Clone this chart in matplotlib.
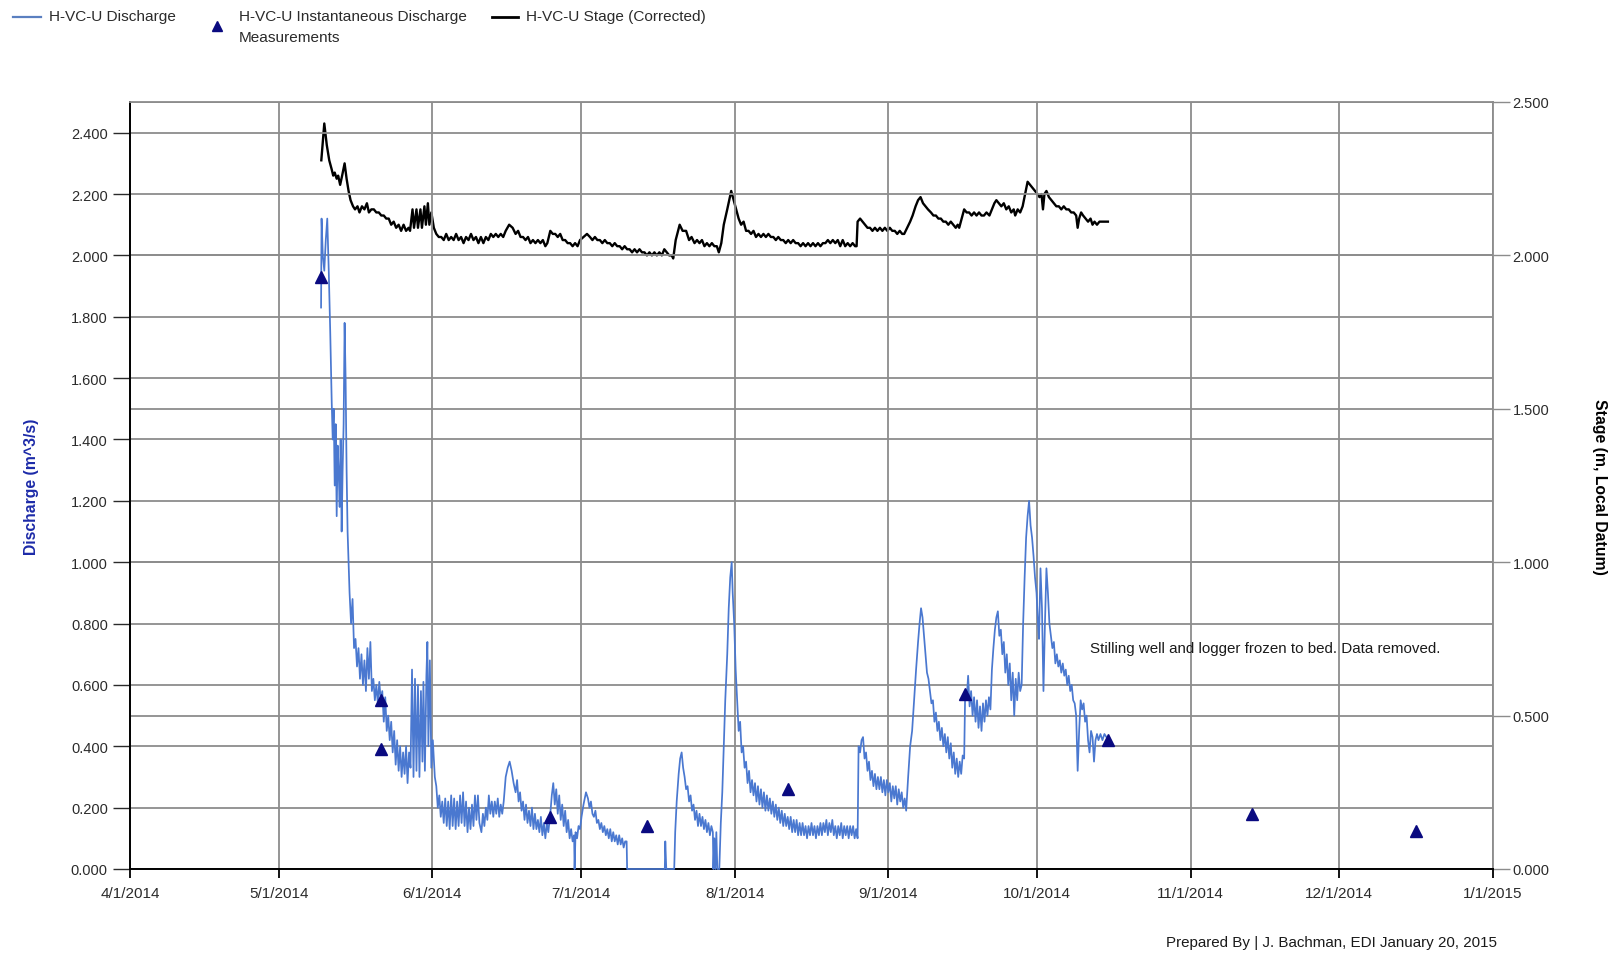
import numpy as np
import pandas as pd
import matplotlib.pyplot as plt
import matplotlib.dates as mdates
from matplotlib.lines import Line2D
from matplotlib.ticker import FixedLocator, FuncFormatter

plt.rcParams['font.family'] = ['Liberation Sans', 'DejaVu Sans']

start = pd.Timestamp('2014-04-01')

# discharge record, days since 4/1/2014 and m^3/s
q_day = [38.55, 38.65, 38.9, 39.2, 39.5, 39.8, 40.1, 40.4, 40.7, 40.9, 41.1, 41.3, 41.5, 41.7, 41.9,
         42.1, 42.3, 42.5, 42.7, 42.9, 43.1, 43.3, 43.5, 43.7, 43.9, 44.1, 44.3, 44.6, 44.9, 45.2,
         45.5, 45.8, 46.1, 46.4, 46.7, 47.0, 47.3, 47.6, 47.9, 48.2, 48.5, 48.8, 49.1, 49.4, 49.7,
         50.0, 50.3, 50.6, 50.9, 51.2, 51.5, 51.8, 52.1, 52.4, 52.7, 53.0, 53.3, 53.6, 53.9, 54.2,
         54.5, 54.8, 55.1, 55.4, 55.7, 56.0, 56.3, 56.6, 56.9, 57.2, 57.5, 57.8, 58.1, 58.4, 58.7,
         59.0, 59.2, 59.5, 59.8, 60.0, 60.2, 60.5, 60.8, 61.1, 61.5, 61.8, 62.1, 62.4, 62.7, 63.0,
         63.3, 63.6, 63.9, 64.2, 64.5, 64.8, 65.1, 65.4, 65.7, 66.0, 66.3, 66.6, 66.9, 67.2, 67.5,
         67.8, 68.1, 68.4, 68.7, 69.0, 69.3, 69.6, 69.9, 70.2, 70.5, 70.9, 71.2, 71.5, 71.8, 72.1,
         72.4, 72.7, 73.0, 73.3, 73.6, 73.9, 74.2, 74.5, 74.8, 75.1, 75.4, 75.8, 76.2, 76.6, 77.0,
         77.4, 77.8, 78.1, 78.4, 78.7, 79.0, 79.3, 79.6, 79.9, 80.2, 80.5, 80.8, 81.1, 81.4, 81.7,
         82.0, 82.3, 82.6, 82.9, 83.2, 83.5, 83.8, 84.1, 84.4, 84.8, 85.1, 85.4, 85.7, 86.0, 86.3,
         86.6, 86.9, 87.2, 87.5, 87.8, 88.1, 88.4, 88.7, 89.0, 89.3, 89.6, 89.7, 89.9, 90.2, 90.5,
         90.8, 91.1, 91.5, 92.0, 92.4, 92.7, 93.0, 93.3, 93.6, 93.9, 94.2, 94.5, 94.8, 95.1, 95.4,
         95.7, 96.0, 96.3, 96.6, 96.9, 97.2, 97.5, 97.8, 98.1, 98.4, 98.7, 99.0, 99.3, 99.6, 99.9,
         100.2, 100.3, 107.9, 108.0, 108.2, 109.8, 110.0, 110.3, 110.7, 111.0, 111.3, 111.6, 111.9,
         112.2, 112.5, 112.8, 113.1, 113.4, 113.7, 114.0, 114.3, 114.6, 114.9, 115.2, 115.5, 115.8,
         116.1, 116.4, 116.7, 117.0, 117.3, 117.6, 117.7, 117.9, 118.1, 118.3, 118.5, 118.9, 119.2,
         119.5, 119.8, 120.1, 120.5, 120.8, 121.1, 121.4, 121.6, 121.9, 122.2, 122.5, 122.8, 123.1,
         123.4, 123.7, 124.0, 124.3, 124.6, 124.9, 125.2, 125.5, 125.8, 126.1, 126.4, 126.7, 127.0,
         127.3, 127.6, 127.9, 128.2, 128.5, 128.8, 129.1, 129.4, 129.7, 130.0, 130.3, 130.6, 130.9,
         131.2, 131.5, 131.8, 132.1, 132.4, 132.7, 133.0, 133.3, 133.6, 133.9, 134.2, 134.5, 134.8,
         135.1, 135.4, 135.7, 136.0, 136.3, 136.6, 136.9, 137.2, 137.5, 137.8, 138.1, 138.4, 138.7,
         139.0, 139.3, 139.6, 139.9, 140.2, 140.5, 140.8, 141.1, 141.4, 141.7, 142.0, 142.3, 142.6,
         142.9, 143.2, 143.5, 143.8, 144.1, 144.4, 144.7, 145.0, 145.3, 145.6, 145.9, 146.2, 146.5,
         146.8, 147.0, 147.3, 147.6, 147.9, 148.2, 148.5, 148.8, 149.1, 149.4, 149.7, 150.0, 150.3,
         150.6, 150.9, 151.2, 151.5, 151.8, 152.1, 152.4, 152.7, 153.0, 153.3, 153.6, 153.9, 154.2,
         154.5, 154.8, 155.1, 155.4, 155.7, 156.0, 156.3, 156.6, 157.0, 157.4, 157.8, 158.2, 158.6,
         159.0, 159.3, 159.6, 159.9, 160.2, 160.5, 160.8, 161.1, 161.4, 161.7, 162.0, 162.3, 162.6,
         162.9, 163.2, 163.5, 163.8, 164.1, 164.4, 164.7, 165.0, 165.3, 165.6, 165.9, 166.2, 166.5,
         166.8, 167.1, 167.4, 167.7, 168.0, 168.3, 168.5, 168.8, 169.1, 169.4, 169.7, 170.0, 170.3,
         170.6, 170.9, 171.2, 171.5, 171.8, 172.1, 172.4, 172.7, 173.0, 173.3, 173.6, 173.9, 174.2,
         174.5, 174.8, 175.1, 175.4, 175.7, 176.0, 176.3, 176.6, 176.9, 177.2, 177.5, 177.8, 178.1,
         178.4, 178.7, 179.0, 179.3, 179.6, 179.9, 180.2, 180.5, 180.8, 181.1, 181.4, 181.7, 182.0,
         182.3, 182.6, 182.9, 183.2, 183.4, 183.7, 184.0, 184.3, 184.6, 184.9, 185.2, 185.5, 185.8,
         186.1, 186.4, 186.7, 187.0, 187.3, 187.6, 187.9, 188.2, 188.5, 188.8, 189.1, 189.4, 189.7,
         190.0, 190.3, 190.6, 190.9, 191.2, 191.5, 191.8, 192.1, 192.4, 192.7, 193.0, 193.3, 193.6,
         193.9, 194.2, 194.5, 194.8, 195.1, 195.4, 195.8, 196.2, 196.6, 197.0]
q_val = [1.83, 2.12, 2.00, 1.95, 2.05, 2.12, 1.95, 1.75, 1.52, 1.40, 1.50, 1.25, 1.45, 1.15, 1.38,
         1.30, 1.18, 1.40, 1.10, 1.30, 1.45, 1.78, 1.60, 1.30, 1.10, 1.00, 0.90, 0.80, 0.88, 0.72,
         0.75, 0.66, 0.72, 0.62, 0.70, 0.60, 0.68, 0.58, 0.72, 0.62, 0.74, 0.58, 0.62, 0.55, 0.60,
         0.54, 0.61, 0.55, 0.58, 0.48, 0.56, 0.45, 0.50, 0.42, 0.48, 0.38, 0.45, 0.34, 0.42, 0.32,
         0.40, 0.30, 0.38, 0.31, 0.40, 0.28, 0.38, 0.33, 0.65, 0.30, 0.62, 0.32, 0.60, 0.30, 0.58,
         0.35, 0.61, 0.32, 0.63, 0.74, 0.40, 0.68, 0.33, 0.42, 0.30, 0.27, 0.20, 0.24, 0.17, 0.22,
         0.15, 0.23, 0.14, 0.22, 0.13, 0.24, 0.14, 0.23, 0.13, 0.22, 0.14, 0.24, 0.15, 0.25, 0.14,
         0.22, 0.12, 0.20, 0.13, 0.21, 0.14, 0.24, 0.16, 0.24, 0.15, 0.12, 0.18, 0.14, 0.20, 0.16,
         0.24, 0.18, 0.22, 0.17, 0.22, 0.18, 0.23, 0.17, 0.21, 0.18, 0.22, 0.30, 0.33, 0.35, 0.32,
         0.28, 0.25, 0.29, 0.22, 0.25, 0.19, 0.22, 0.16, 0.21, 0.15, 0.19, 0.14, 0.20, 0.13, 0.18,
         0.13, 0.16, 0.12, 0.17, 0.11, 0.15, 0.10, 0.15, 0.12, 0.18, 0.24, 0.28, 0.21, 0.26, 0.18,
         0.24, 0.16, 0.21, 0.14, 0.19, 0.12, 0.16, 0.10, 0.13, 0.09, 0.11, 0.00, 0.12, 0.10, 0.14,
         0.13, 0.17, 0.21, 0.25, 0.23, 0.20, 0.22, 0.18, 0.17, 0.19, 0.15, 0.16, 0.13, 0.15, 0.12,
         0.14, 0.11, 0.13, 0.10, 0.13, 0.09, 0.12, 0.09, 0.11, 0.08, 0.11, 0.08, 0.10, 0.07, 0.09,
         0.09, 0.00, 0.00, 0.09, 0.00, 0.00, 0.12, 0.22, 0.31, 0.36, 0.38, 0.33, 0.30,
         0.26, 0.27, 0.22, 0.24, 0.19, 0.21, 0.16, 0.19, 0.14, 0.18, 0.14, 0.17, 0.13,
         0.16, 0.12, 0.15, 0.11, 0.14, 0.12, 0.00, 0.10, 0.00, 0.12, 0.00, 0.00, 0.15,
         0.25, 0.40, 0.55, 0.70, 0.85, 0.95, 1.00, 0.90, 0.80, 0.65, 0.55, 0.45, 0.48,
         0.38, 0.40, 0.33, 0.35, 0.28, 0.32, 0.25, 0.29, 0.24, 0.28, 0.22, 0.27, 0.21,
         0.26, 0.20, 0.25, 0.19, 0.24, 0.19, 0.23, 0.18, 0.22, 0.17, 0.21, 0.16, 0.20,
         0.15, 0.19, 0.14, 0.18, 0.14, 0.17, 0.13, 0.17, 0.12, 0.16, 0.12, 0.16, 0.11,
         0.15, 0.11, 0.15, 0.11, 0.14, 0.10, 0.14, 0.11, 0.15, 0.11, 0.14, 0.10, 0.14,
         0.11, 0.15, 0.11, 0.15, 0.12, 0.16, 0.11, 0.15, 0.12, 0.16, 0.11, 0.14, 0.10,
         0.14, 0.11, 0.15, 0.10, 0.14, 0.11, 0.14, 0.10, 0.14, 0.11, 0.14, 0.10, 0.13,
         0.10, 0.40, 0.38, 0.42, 0.43, 0.36, 0.38, 0.32, 0.35, 0.29, 0.32, 0.27, 0.31,
         0.26, 0.30, 0.26, 0.30, 0.25, 0.29, 0.24, 0.29, 0.25, 0.28, 0.22, 0.27, 0.23,
         0.27, 0.21, 0.26, 0.22, 0.25, 0.20, 0.23, 0.19, 0.30, 0.40, 0.45, 0.55, 0.65,
         0.74, 0.80, 0.85, 0.82, 0.76, 0.70, 0.64, 0.62, 0.58, 0.54, 0.55, 0.48, 0.51,
         0.45, 0.48, 0.42, 0.46, 0.40, 0.44, 0.38, 0.43, 0.36, 0.41, 0.33, 0.38, 0.31,
         0.36, 0.30, 0.35, 0.31, 0.37, 0.36, 0.57, 0.55, 0.63, 0.53, 0.58, 0.50, 0.56,
         0.48, 0.55, 0.46, 0.53, 0.45, 0.54, 0.48, 0.55, 0.50, 0.56, 0.52, 0.65, 0.72,
         0.78, 0.82, 0.84, 0.76, 0.78, 0.70, 0.74, 0.64, 0.70, 0.60, 0.67, 0.55, 0.64,
         0.50, 0.62, 0.55, 0.64, 0.58, 0.60, 0.80, 0.95, 1.08, 1.15, 1.20, 1.12, 1.08,
         1.02, 0.95, 0.90, 0.80, 0.75, 0.98, 0.85, 0.58, 0.80, 0.98, 0.90, 0.80, 0.76,
         0.72, 0.74, 0.67, 0.70, 0.66, 0.68, 0.64, 0.67, 0.63, 0.65, 0.60, 0.63, 0.58,
         0.60, 0.55, 0.54, 0.50, 0.32, 0.45, 0.55, 0.52, 0.54, 0.48, 0.50, 0.42, 0.38,
         0.45, 0.43, 0.35, 0.42, 0.44, 0.42, 0.44, 0.42, 0.44, 0.43]

# corrected stage, days since 4/1/2014 and m
stage_day = [38.6, 39.2, 39.7, 40.2, 40.7, 41.0, 41.3, 41.7, 42.0, 42.4, 42.8, 43.3, 43.7, 44.1, 44.5,
             45.0, 45.4, 45.9, 46.3, 46.8, 47.3, 47.8, 48.2, 48.7, 49.2, 49.7, 50.2, 50.7, 51.2, 51.7,
             52.2, 52.7, 53.2, 53.7, 54.2, 54.7, 55.2, 55.7, 56.2, 56.5, 57.0, 57.3, 57.8, 58.1, 58.6,
             58.9, 59.4, 59.7, 60.1, 60.4, 60.8, 61.3, 61.8, 62.3, 62.8, 63.3, 63.8, 64.3, 64.8, 65.3,
             65.8, 66.3, 66.8, 67.3, 67.8, 68.3, 68.8, 69.3, 69.8, 70.3, 70.8, 71.3, 71.8, 72.3, 72.8,
             73.3, 73.8, 74.3, 74.8, 75.3, 75.8, 76.5, 77.2, 77.8, 78.3, 78.8, 79.3, 79.8, 80.3, 80.8,
             81.3, 81.8, 82.3, 82.8, 83.3, 83.8, 84.2, 84.8, 85.3, 85.8, 86.3, 86.8, 87.3, 87.8, 88.3,
             88.8, 89.3, 89.8, 90.3, 90.8, 91.5, 92.2, 92.8, 93.3, 93.8, 94.3, 94.8, 95.3, 95.8, 96.3,
             96.8, 97.3, 97.8, 98.3, 98.8, 99.3, 99.8, 100.3, 100.8, 101.3, 101.8, 102.3, 102.8, 103.3,
             103.8, 104.3, 104.8, 105.3, 105.8, 106.3, 106.8, 107.3, 107.8, 108.3, 108.8, 109.3, 109.6,
             110.1, 110.9, 111.5, 112.2, 112.8, 113.3, 113.9, 114.4, 114.9, 115.4, 115.9, 116.4, 116.9,
             117.4, 117.9, 118.4, 118.8, 119.3, 119.8, 120.5, 121.3, 121.8, 122.3, 122.8, 123.3, 123.8,
             124.3, 124.8, 125.3, 125.8, 126.3, 126.8, 127.3, 127.8, 128.3, 128.8, 129.3, 129.8, 130.3,
             130.8, 131.3, 131.8, 132.3, 132.8, 133.3, 133.8, 134.3, 134.8, 135.3, 135.8, 136.3, 136.8,
             137.3, 137.8, 138.3, 138.8, 139.3, 139.8, 140.3, 140.8, 141.3, 141.8, 142.3, 142.8, 143.3,
             143.8, 144.3, 144.8, 145.3, 145.8, 146.3, 146.6, 146.8, 147.3, 147.8, 148.3, 148.8, 149.3,
             149.8, 150.3, 150.8, 151.3, 151.8, 152.3, 152.8, 153.3, 153.8, 154.3, 154.8, 155.3, 155.8,
             156.2, 156.8, 157.4, 157.9, 158.5, 159.0, 159.5, 160.0, 160.5, 161.0, 161.6, 162.1, 162.6,
             163.1, 163.6, 164.1, 164.6, 165.1, 165.6, 166.1, 166.6, 167.0, 167.3, 167.8, 168.3, 168.8,
             169.3, 169.8, 170.3, 170.8, 171.3, 171.8, 172.3, 172.8, 173.4, 173.9, 174.4, 174.8, 175.3,
             175.8, 176.3, 176.8, 177.3, 177.8, 178.3, 178.6, 179.1, 179.6, 180.1, 180.6, 181.1, 181.6,
             182.1, 182.6, 183.1, 183.5, 183.9, 184.2, 184.5, 184.9, 185.4, 185.9, 186.4, 186.9, 187.4,
             187.9, 188.4, 188.9, 189.4, 189.9, 190.4, 190.9, 191.2, 191.5, 191.9, 192.3, 192.8, 193.3,
             193.8, 194.2, 194.6, 195.1, 195.6, 196.1, 196.6, 197.3]
stage_val = [2.31, 2.43, 2.36, 2.31, 2.28, 2.26, 2.27, 2.25, 2.26, 2.23, 2.26, 2.30, 2.25, 2.21, 2.18,
             2.16, 2.15, 2.16, 2.14, 2.16, 2.15, 2.17, 2.14, 2.15, 2.15, 2.14, 2.14, 2.13, 2.13, 2.12,
             2.12, 2.10, 2.11, 2.09, 2.10, 2.08, 2.10, 2.08, 2.09, 2.08, 2.15, 2.09, 2.15, 2.09, 2.15,
             2.09, 2.16, 2.10, 2.17, 2.10, 2.14, 2.09, 2.07, 2.06, 2.06, 2.05, 2.07, 2.05, 2.06, 2.05,
             2.07, 2.05, 2.06, 2.04, 2.06, 2.05, 2.07, 2.05, 2.06, 2.04, 2.06, 2.04, 2.06, 2.05, 2.07,
             2.06, 2.07, 2.06, 2.07, 2.06, 2.08, 2.10, 2.09, 2.07, 2.08, 2.06, 2.06, 2.05, 2.06, 2.04,
             2.05, 2.04, 2.05, 2.04, 2.05, 2.03, 2.04, 2.08, 2.07, 2.07, 2.06, 2.07, 2.05, 2.05, 2.04,
             2.04, 2.03, 2.04, 2.03, 2.05, 2.06, 2.07, 2.06, 2.05, 2.06, 2.05, 2.05, 2.04, 2.05, 2.04,
             2.04, 2.03, 2.04, 2.03, 2.03, 2.02, 2.03, 2.02, 2.02, 2.01, 2.02, 2.01, 2.02, 2.01,
             2.01, 2.00, 2.01, 2.00, 2.01, 2.00, 2.01, 2.00, 2.02, 2.01, 2.00, 2.00, 1.99,
             2.05, 2.10, 2.08, 2.08, 2.05, 2.06, 2.04, 2.05, 2.04, 2.05, 2.03, 2.04, 2.03,
             2.04, 2.03, 2.03, 2.01, 2.04, 2.10, 2.15, 2.21, 2.18, 2.15, 2.12, 2.10, 2.11,
             2.08, 2.08, 2.07, 2.08, 2.06, 2.07, 2.06, 2.07, 2.06, 2.07, 2.06, 2.06, 2.05,
             2.06, 2.05, 2.05, 2.04, 2.05, 2.04, 2.05, 2.04, 2.04, 2.03, 2.04, 2.03, 2.04,
             2.03, 2.04, 2.03, 2.04, 2.03, 2.04, 2.04, 2.05, 2.04, 2.05, 2.04, 2.05, 2.03,
             2.05, 2.03, 2.04, 2.03, 2.04, 2.03, 2.03, 2.11, 2.12, 2.11, 2.10, 2.09, 2.09,
             2.08, 2.09, 2.08, 2.09, 2.08, 2.09, 2.08, 2.09, 2.08, 2.08, 2.07, 2.08, 2.07,
             2.07, 2.09, 2.11, 2.13, 2.16, 2.18, 2.19, 2.17, 2.16, 2.15, 2.14, 2.13, 2.13,
             2.12, 2.12, 2.11, 2.11, 2.10, 2.11, 2.10, 2.09, 2.10, 2.09, 2.12, 2.15, 2.14,
             2.14, 2.13, 2.14, 2.13, 2.14, 2.13, 2.13, 2.14, 2.13, 2.15, 2.17, 2.18, 2.17,
             2.16, 2.17, 2.15, 2.16, 2.14, 2.15, 2.13, 2.15, 2.14, 2.16, 2.20, 2.24, 2.23,
             2.22, 2.21, 2.20, 2.19, 2.20, 2.15, 2.20, 2.21, 2.19, 2.18, 2.17, 2.16, 2.16,
             2.15, 2.16, 2.15, 2.15, 2.14, 2.14, 2.13, 2.09, 2.12, 2.14, 2.13, 2.12, 2.11,
             2.12, 2.10, 2.11, 2.10, 2.11, 2.11, 2.11, 2.11]

# instantaneous discharge measurements
meas_day = [38.5, 50.6, 50.6, 84.7, 104.4, 132.7, 168.5, 197.4, 226.3, 259.4]
meas_val = [1.93, 0.55, 0.39, 0.17, 0.14, 0.26, 0.57, 0.42, 0.18, 0.125]

month_ticks = pd.date_range('2014-04-01', '2015-01-01', freq='MS')

q_t = start + pd.to_timedelta(q_day, unit='D')
s_t = start + pd.to_timedelta(stage_day, unit='D')
m_t = start + pd.to_timedelta(meas_day, unit='D')

W, H = 1617, 954
fig = plt.figure(figsize=(W / 100, H / 100), dpi=100)
ax = fig.add_axes([130 / W, 1 - 870 / H, 1363 / W, 767 / H])
ax2 = ax.twinx()
# stage axis underneath so discharge and measurements sit on top
ax.set_zorder(ax2.get_zorder() + 1)
ax.patch.set_visible(False)

grid_c = '#8c8c8c'
txt_c = '#2b2b2b'

ax2.plot(s_t, stage_val, color='black', lw=1.7)
ax.plot(q_t, q_val, color='#4a78d0', lw=1.25, zorder=4, clip_on=False)
ax.plot(m_t, meas_val, ls='none', marker='^', ms=9, color='#0a0a80', clip_on=False, zorder=5)

ax.set_xlim(month_ticks[0], month_ticks[-1])
ax.set_ylim(0, 2.5)
ax2.set_ylim(0, 2.5)

ax.yaxis.set_major_locator(FixedLocator(np.arange(0, 2.41, 0.2)))
ax.yaxis.set_major_formatter(FuncFormatter(lambda v, p: f'{v:.3f}'))
ax2.yaxis.set_major_locator(FixedLocator(np.arange(0, 2.51, 0.5)))
ax2.yaxis.set_major_formatter(FuncFormatter(lambda v, p: f'{v:.3f}'))

ax.xaxis.set_major_locator(FixedLocator(mdates.date2num(month_ticks)))
ax.xaxis.set_major_formatter(FuncFormatter(
    lambda v, p: (lambda d: f'{d.month}/{d.day}/{d.year}')(mdates.num2date(v))))

ax.grid(True, axis='both', color=grid_c, lw=1.3)
ax2.grid(True, axis='y', color=grid_c, lw=1.3)
ax.set_axisbelow(True)

ax.tick_params(axis='y', direction='out', length=12, width=1, color=txt_c,
               labelsize=10.5, labelcolor=txt_c, pad=4)
ax.tick_params(axis='x', direction='out', length=6.5, width=1.3, color='black',
               labelsize=11, labelcolor=txt_c, pad=6)
ax2.tick_params(axis='y', direction='out', length=12, width=1, color=grid_c,
                labelsize=10.5, labelcolor=txt_c, pad=2)

for s in ['left', 'bottom']:
    ax.spines[s].set_color('black')
    ax.spines[s].set_linewidth(1.4)
ax.spines['right'].set_visible(False)
ax.spines['top'].set_color(grid_c)
ax.spines['top'].set_linewidth(1.3)
for s in ['left', 'bottom', 'top']:
    ax2.spines[s].set_visible(False)
ax2.spines['right'].set_color(grid_c)
ax2.spines['right'].set_linewidth(1.3)

ax.set_ylabel('Discharge (m^3/s)', color='#1c2aa8', fontsize=11.3, fontweight='bold')
ax.yaxis.set_label_coords(-0.0668, 0.5)
ax2.set_ylabel('Stage (m, Local Datum)', color='black', fontsize=11.3, fontweight='bold',
               rotation=270, va='center')
ax2.yaxis.set_label_coords(1.0785, 0.5)

ax.text(pd.Timestamp('2014-10-11 18:00'), 0.72, 'Stilling well and logger frozen to bed. Data removed.',
        fontsize=10.9, color='#1a1a1a', va='center', ha='left')

fig.text(1497 / W, 1 - 943 / H, 'Prepared By | J. Bachman, EDI January 20, 2015',
         fontsize=10.9, color='#1a1a1a', ha='right', va='center')


# legend row across the top
def fx(x):
    return x / W


def fy(y):
    return 1 - y / H


fig.add_artist(Line2D([fx(13), fx(41)], [fy(17.5), fy(17.5)], color='#5a7fc0', lw=1.6))
fig.text(fx(49), fy(17.5), 'H-VC-U Discharge', fontsize=11.1, color=txt_c, va='center')
fig.add_artist(Line2D([fx(216.5)], [fy(27)], ls='none', marker='^', ms=7, color='#0a0a80'))
fig.text(fx(239), fy(17.5), 'H-VC-U Instantaneous Discharge', fontsize=11.1, color=txt_c, va='center')
fig.text(fx(239), fy(38), 'Measurements', fontsize=11.1, color=txt_c, va='center')
fig.add_artist(Line2D([fx(492), fx(518)], [fy(17.5), fy(17.5)], color='black', lw=2))
fig.text(fx(526), fy(17.5), 'H-VC-U Stage (Corrected)', fontsize=11.1, color=txt_c, va='center')

fig.savefig('out.png', dpi=100)
